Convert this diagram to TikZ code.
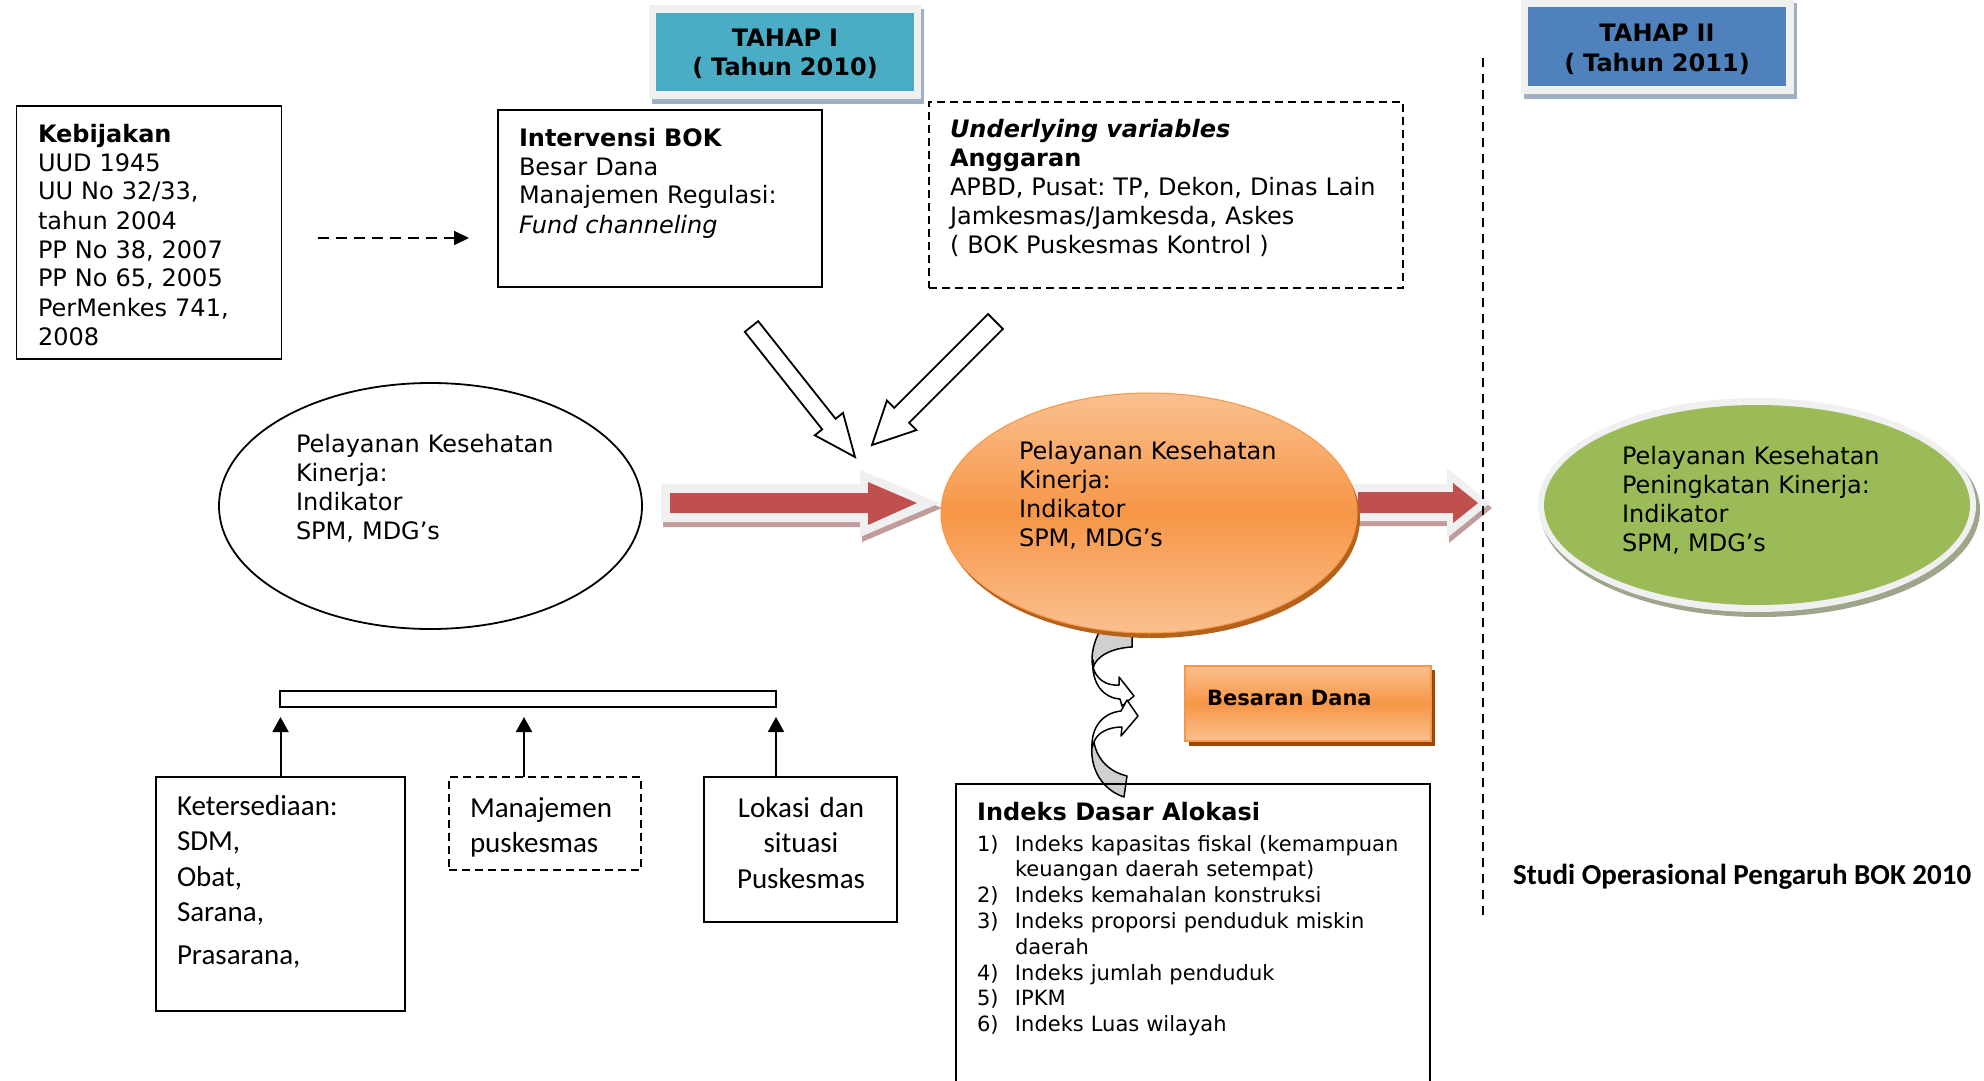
\documentclass[tikz,border=0pt]{standalone}
\usepackage{fontspec}
\setmainfont{DejaVu Sans}
\newfontfamily\carlito{Carlito}
\usetikzlibrary{arrows.meta,calc,shapes.geometric}
\frenchspacing

\definecolor{tealbox}{HTML}{4BACC6}
\definecolor{bluebox}{HTML}{4F81BD}
\definecolor{framegray}{HTML}{F0F0F0}
\definecolor{tahapshadow}{HTML}{9EB0C2}
\definecolor{orangemid}{HTML}{F79646}
\definecolor{orangelight}{HTML}{FAC090}
\definecolor{orangeshadow}{HTML}{B4621C}
\definecolor{greenfill}{HTML}{9BBB59}
\definecolor{greenshadow}{HTML}{9DA58A}
\definecolor{redarrow}{HTML}{C0504D}
\definecolor{redshadow}{HTML}{C09C9C}
\definecolor{curvegray}{HTML}{D0D0D0}
\definecolor{boxshadow}{HTML}{984807}

\tikzset{
  boxframe/.style={draw, line width=1.8pt, inner sep=0pt, outer sep=0pt},
  dashframe/.style={boxframe, dash pattern=on 8pt off 5pt},
  bodytext/.style={inner sep=0pt, outer sep=0pt, anchor=base west, align=left,
    text width=#1, font=\fontsize{24}{29}\selectfont},
  bodytext/.default=460pt,
  listtext/.style={bodytext=#1, font=\fontsize{21}{25.8}\selectfont},
  listtext/.default=460pt,
  calitext/.style={inner sep=0pt, outer sep=0pt, anchor=base west, align=left,
    text width=#1, font=\carlito\fontsize{29}{35.5}\selectfont},
  calitext/.default=300pt,
  tahaptext/.style={inner sep=0pt, anchor=base, align=center, text width=260pt,
    font=\bfseries\fontsize{24}{29}\selectfont},
  uparrow/.style={line width=2pt, -{Triangle[length=15pt,width=16pt]}, shorten >=10pt},
  hollow/.style={draw, fill=white, line width=1.8pt, line join=miter},
  curved/.style={draw, line width=1.5pt, line join=round},
  plainellipse/.style={ellipse, inner sep=0pt, outer sep=0pt},
}

\begin{document}
\begin{tikzpicture}[x=1pt, y=-1pt]
\useasboundingbox (0,0) rectangle (1984,1081);
\clip (0,0) rectangle (1984,1081);

% ---- stage headers ----
\fill[tahapshadow] (652,9) rectangle (924,104);
\fill[framegray] (649,5) rectangle (921,99);
\node[fill=tealbox, inner sep=0pt, minimum width=258pt, minimum height=78pt] (tahapone) at (785,52) {};
\node[tahaptext] (tahaponetext) at (785,47) {TAHAP I\\( Tahun 2010)};

\fill[tahapshadow] (1524,3) rectangle (1797,99);
\fill[framegray] (1521,0) rectangle (1794,94);
\node[fill=bluebox, inner sep=0pt, minimum width=258pt, minimum height=79pt] (tahaptwo) at (1657,46.5) {};
\node[tahaptext] (tahaptwotext) at (1657,42) {TAHAP II\\( Tahun 2011)};

% ---- upper boxes ----
\node[boxframe, minimum width=265pt, minimum height=253pt] (keb) at (149,232.5) {};
\node[bodytext] (kebtext) at (38,142) {\textbf{Kebijakan}\\UUD 1945\\UU No 32/33,\\tahun 2004\\PP No 38, 2007\\PP No 65, 2005\\PerMenkes 741,\\2008};

\node[boxframe, minimum width=324pt, minimum height=177pt] (intv) at (660,198.5) {};
\node[bodytext] (intvtext) at (519,146) {\textbf{Intervensi BOK}\\Besar Dana\\Manajemen Regulasi:\\\textit{Fund channeling}};

\node[dashframe, minimum width=474pt, minimum height=186pt] (under) at (1166,195) {};
\node[bodytext] (undertext) at (950,137) {\textbf{\textit{Underlying variables}}\\\textbf{Anggaran}\\APBD, Pusat: TP, Dekon, Dinas Lain\\Jamkesmas/Jamkesda, Askes\\( BOK Puskesmas Kontrol )};

\draw[line width=1.8pt, dash pattern=on 11pt off 7pt, -{Triangle[length=15pt,width=14pt]}, shorten >=29pt]
  ([xshift=36pt,yshift=-5.5pt]keb.east) -- ([yshift=-5.5pt]keb.east -| intv.west);

% ---- left ellipse ----
\node[plainellipse, draw, line width=1.8pt, minimum width=423pt, minimum height=246pt] (pkzero) at (430.5,506) {};
\node[bodytext] (pkzerotext) at (296,452) {Pelayanan Kesehatan\\Kinerja:\\Indikator\\SPM, MDG’s};

% ---- red block arrows ----
\fill[redshadow] (663,489) -- (862,489) -- (862,475) -- (942,508) -- (862,542) -- (862,527) -- (663,527) -- cycle;
\fill[framegray] (661,484) -- (860,484) -- (860,470) -- (940,503) -- (860,537) -- (860,522) -- (661,522) -- cycle;
\fill[redarrow] (670,493) -- (868,493) -- (868,482) -- (917,503) -- (868,525) -- (868,513) -- (670,513) -- cycle;

\fill[redshadow] (1352,489) -- (1449,489) -- (1449,473) -- (1492,508) -- (1449,543) -- (1449,526) -- (1352,526) -- cycle;
\fill[framegray] (1350,484) -- (1447,484) -- (1447,468) -- (1490,503) -- (1447,538) -- (1447,521) -- (1350,521) -- cycle;
\fill[redarrow] (1358,492) -- (1453,492) -- (1453,483) -- (1478,503) -- (1453,523) -- (1453,513) -- (1358,513) -- cycle;

% ---- curved arrows between the centre ellipse and the allocation box ----
\path[curved, fill=curvegray] (1103,625) -- (1132,625) -- (1132,647)
  .. controls (1112,648) and (1096,656) .. (1093,668)
  .. controls (1090,655) and (1094,640) .. (1103,625) -- cycle;
\path[curved, fill=white] (1093,660) .. controls (1091,684) and (1104,698) .. (1120,699)
  -- (1122,706) -- (1134,696) -- (1119,677) -- (1119,685)
  .. controls (1106,686) and (1096,679) .. (1093,667) -- cycle;
\path[curved, fill=curvegray] (1092,746) .. controls (1090,770) and (1103,790) .. (1124,797)
  -- (1127,776) .. controls (1110,772) and (1097,760) .. (1094,742) -- cycle;
\path[curved, fill=white] (1092,748) .. controls (1091,728) and (1102,713) .. (1121,711)
  -- (1127,700) -- (1138,716) -- (1121,736) -- (1122,727)
  .. controls (1108,727) and (1097,733) .. (1094,742) -- cycle;

% ---- centre ellipse ----
\node[plainellipse, fill=orangeshadow, minimum width=416pt, minimum height=240pt] (pkoneshadow) at (1152,518) {};
\node[plainellipse, top color=orangelight, bottom color=orangelight, middle color=orangemid,
  draw=orangemid, line width=1pt, minimum width=416pt, minimum height=240pt] (pkone) at (1149,513) {};
\node[bodytext] (pkonetext) at (1019,459) {Pelayanan Kesehatan\\Kinerja:\\Indikator\\SPM, MDG’s};

% ---- right ellipse ----
\node[plainellipse, fill=greenshadow, minimum width=440pt, minimum height=214pt] (pktwoshadow) at (1760,510) {};
\node[plainellipse, fill=framegray, minimum width=438pt, minimum height=214pt] (pktwoframe) at (1757,505) {};
\node[plainellipse, fill=greenfill, minimum width=426pt, minimum height=200pt] (pktwo) at (1757,505) {};
\node[bodytext] (pktwotext) at (1622,464) {Pelayanan Kesehatan\\Peningkatan Kinerja:\\Indikator\\SPM, MDG’s};

% ---- hollow arrows into the centre ellipse ----
\path[hollow] (744.8,331.8) -- (822.2,429.4) -- (814.8,435.3) -- (855,457) -- (843.0,412.9) -- (835.6,418.8) -- (758.2,321.2) -- cycle;
\path[hollow] (988.1,314.1) -- (894.3,407.9) -- (886.9,400.5) -- (872,445) -- (916.5,430.1) -- (909.1,422.7) -- (1002.9,328.9) -- cycle;

% ---- stage divider ----
\coordinate (divtop) at (1483,58);
\coordinate (divbot) at (1483,920);
\draw[line width=1.5pt, dash pattern=on 9pt off 7pt] (divtop) -- (divbot);
\node[inner sep=0pt, anchor=base west, font=\carlito\bfseries\fontsize{29}{35}\selectfont] (studi) at (1513,884) {Studi Operasional Pengaruh BOK 2010};

% ---- fund size box ----
\fill[boxshadow] (1189,670) rectangle (1435,746);
\node[top color=orangelight, bottom color=orangelight, middle color=orangemid, draw=orangemid,
  line width=1.5pt, inner sep=0pt, minimum width=246pt, minimum height=75pt] (besaran) at (1308,703.5) {};
\node[inner sep=0pt, anchor=base west, font=\bfseries\fontsize{21}{25}\selectfont] (besarantext) at (1207,705) {Besaran Dana};

% ---- allocation index box ----
\node[boxframe, anchor=north west, minimum width=474pt, minimum height=320pt] (ida) at (956,784) {};
\node[inner sep=0pt, anchor=base west, font=\bfseries\fontsize{24}{29}\selectfont] (idahead) at (977,820) {Indeks Dasar Alokasi};
\node[listtext] (idalist) at (977,851) {%
\makebox[38pt][l]{1)}Indeks kapasitas fiskal (kemampuan\\
\hspace*{38pt}keuangan daerah setempat)\\
\makebox[38pt][l]{2)}Indeks kemahalan konstruksi\\
\makebox[38pt][l]{3)}Indeks proporsi penduduk miskin\\
\hspace*{38pt}daerah\\
\makebox[38pt][l]{4)}Indeks jumlah penduduk\\
\makebox[38pt][l]{5)}IPKM\\
\makebox[38pt][l]{6)}Indeks Luas wilayah};

% ---- lower factors ----
\node[boxframe, minimum width=496pt, minimum height=16pt] (bar) at (528,699) {};

\node[boxframe, minimum width=249pt, minimum height=234pt] (ket) at (280.5,894) {};
\node[calitext] (kettext) at (177,815) {Ketersediaan:\\SDM,\\Obat,\\Sarana,\\[7pt]Prasarana,};

\node[dashframe, minimum width=192pt, minimum height=93pt] (man) at (545,823.5) {};
\node[calitext] (mantext) at (470,817) {Manajemen\\puskesmas};

\node[boxframe, minimum width=193pt, minimum height=145pt] (lok) at (800.5,849.5) {};
\node[calitext=190pt, anchor=base, align=center] (loktext) at (801,817) {Lokasi dan\\situasi\\Puskesmas};

\draw[uparrow] (ket.north) -- (ket.north |- bar.south);
\draw[uparrow] ([xshift=-21pt]man.north) -- ([xshift=-21pt]man.north |- bar.south);
\draw[uparrow] ([xshift=-24.5pt]lok.north) -- ([xshift=-24.5pt]lok.north |- bar.south);

\end{tikzpicture}
\end{document}
